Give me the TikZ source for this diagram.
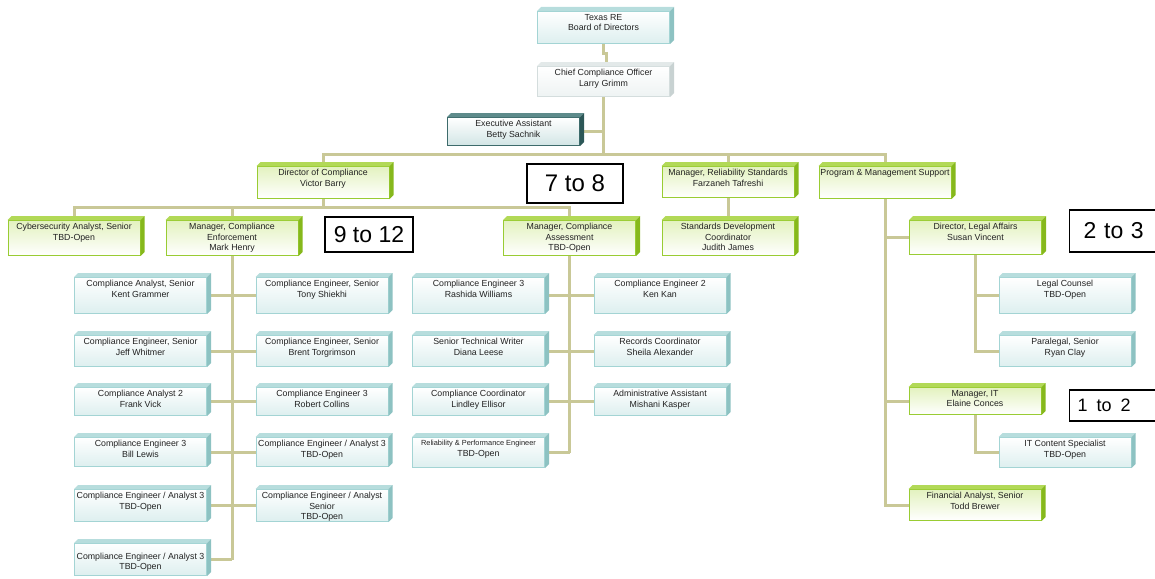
\documentclass[tikz,border=0pt]{standalone}
\usepackage{fontspec}
\setmainfont{Liberation Sans}
\usepackage{xcolor}
\usetikzlibrary{backgrounds}

\definecolor{linkcol}{HTML}{C9C897}
\definecolor{txtcol}{HTML}{222222}
\definecolor{greenline}{HTML}{99CC33}
\definecolor{greentop}{HTML}{B2D957}
\definecolor{greenside}{HTML}{86B81C}
\definecolor{greenfill}{HTML}{E3F2BF}
\definecolor{blueline}{HTML}{A3D4D4}
\definecolor{bluetop}{HTML}{B7DDDD}
\definecolor{blueside}{HTML}{8DC2C2}
\definecolor{bluefill}{HTML}{DDEFEF}
\definecolor{darkline}{HTML}{3D6B6B}
\definecolor{darktop}{HTML}{5E8B8B}
\definecolor{darkside}{HTML}{2C5757}
\definecolor{darkfill}{HTML}{D2E5E5}
\definecolor{greyline}{HTML}{D4DDDD}
\definecolor{greytop}{HTML}{E3E9E9}
\definecolor{greyside}{HTML}{C8D2D2}
\definecolor{greyfill}{HTML}{EEF3F3}

\begin{document}
\begin{tikzpicture}[x=1pt, y=-1pt,
  box/.style={rectangle, anchor=north, minimum width=132pt, inner sep=0pt, line width=1pt},
  greenbox/.style={box, draw=greenline, top color=greenfill, bottom color=white},
  greenbox top/.style={fill=greentop},
  greenbox side/.style={fill=greenside},
  bluebox/.style={box, draw=blueline, top color=white, bottom color=bluefill},
  bluebox top/.style={fill=bluetop},
  bluebox side/.style={fill=blueside},
  darkbox/.style={box, draw=darkline, top color=white, bottom color=darkfill},
  darkbox top/.style={fill=darktop},
  darkbox side/.style={fill=darkside},
  greybox/.style={box, draw=greyline, top color=white, bottom color=greyfill},
  greybox top/.style={fill=greytop},
  greybox side/.style={fill=greyside},
  boxtext/.style={anchor=north, align=center, inner sep=1pt, text=txtcol, font=\fontsize{8.8}{10.6}\selectfont},
  countbox/.style={draw=black, line width=1.3pt, fill=white, inner sep=0pt},
  link/.style={draw=linkcol, line width=3pt},
]

\useasboundingbox (0,0) rectangle (1155,578);
\clip (0,0) rectangle (1155,578);

% box with top bevel and right side: name, kind, x, top, height, text
\def\orgbox#1#2#3#4#5#6{%
  \node[#2, minimum height=#5pt] (#1) at (#3,#4) {};
  \fill[#2 top]  (#1.north west) -- ++(4,-4) -- ([shift={(4,-4)}]#1.north east) -- (#1.north east) -- cycle;
  \fill[#2 side] (#1.north east) -- ([shift={(4,-4)}]#1.north east) -- ([shift={(4,-4)}]#1.south east) -- (#1.south east) -- cycle;
  \node[boxtext] (#1t) at ([yshift=-2pt]#1.north) {#6};
}

% board and officer
\orgbox{texas}{bluebox}{603.5}{11}{32}{Texas RE\\Board of Directors}
\orgbox{cco}{greybox}{603.5}{66}{30}{Chief Compliance Officer\\Larry Grimm}
\orgbox{exec}{darkbox}{513.5}{117}{28}{Executive Assistant\\Betty Sachnik}

% second level
\orgbox{dir}{greenbox}{323}{166}{32}{Director of Compliance\\Victor Barry}
\orgbox{rel}{greenbox}{728}{166}{31}{Manager, Reliability Standards\\Farzaneh Tafreshi}
\orgbox{prog}{greenbox}{885}{166}{32}{Program \& Management Support}

% third level
\orgbox{cyber}{greenbox}{74}{220}{35}{Cybersecurity Analyst, Senior\\TBD-Open}
\orgbox{enf}{greenbox}{232}{220}{35}{Manager, Compliance\\Enforcement\\Mark Henry}
\orgbox{assess}{greenbox}{569.5}{220}{35}{Manager, Compliance\\Assessment\\TBD-Open}
\orgbox{std}{greenbox}{728}{220}{35}{Standards Development\\Coordinator\\Judith James}
\orgbox{dirleg}{greenbox}{975.5}{220}{34}{Director, Legal Affairs\\Susan Vincent}

% enforcement staff
\orgbox{el1}{bluebox}{140.5}{277}{36}{Compliance Analyst, Senior\\Kent Grammer}
\orgbox{er1}{bluebox}{322}{277}{36}{Compliance Engineer, Senior\\Tony Shiekhi}
\orgbox{el2}{bluebox}{140.5}{335}{31}{Compliance Engineer, Senior\\Jeff Whitmer}
\orgbox{er2}{bluebox}{322}{335}{31}{Compliance Engineer, Senior\\Brent Torgrimson}
\orgbox{el3}{bluebox}{140.5}{387}{28}{Compliance Analyst 2\\Frank Vick}
\orgbox{er3}{bluebox}{322}{387}{28}{Compliance Engineer 3\\Robert Collins}
\orgbox{el4}{bluebox}{140.5}{437}{29}{Compliance Engineer 3\\Bill Lewis}
\orgbox{er4}{bluebox}{322}{437}{29}{Compliance Engineer / Analyst 3\\TBD-Open}
\orgbox{el5}{bluebox}{140.5}{489}{32}{Compliance Engineer / Analyst 3\\TBD-Open}
\orgbox{er5}{bluebox}{322}{489}{32}{Compliance Engineer / Analyst\\Senior\\TBD-Open}
\orgbox{el6}{bluebox}{140.5}{543}{32}{\rule{0pt}{13pt}Compliance Engineer / Analyst 3\\TBD-Open}

% assessment staff
\orgbox{al1}{bluebox}{478.5}{277}{36}{Compliance Engineer 3\\Rashida Williams}
\orgbox{ar1}{bluebox}{660}{277}{36}{Compliance Engineer 2\\Ken Kan}
\orgbox{al2}{bluebox}{478.5}{335}{31}{Senior Technical Writer\\Diana Leese}
\orgbox{ar2}{bluebox}{660}{335}{31}{Records Coordinator\\Sheila Alexander}
\orgbox{al3}{bluebox}{478.5}{387}{28}{Compliance Coordinator\\Lindley Ellisor}
\orgbox{ar3}{bluebox}{660}{387}{28}{Administrative Assistant\\Mishani Kasper}
\orgbox{al4}{bluebox}{478.5}{437}{30}{{\fontsize{7.4}{10.6}\selectfont Reliability \& Performance Engineer}\\TBD-Open}

% legal, IT and finance
\orgbox{legal}{bluebox}{1065}{277}{36}{Legal Counsel\\TBD-Open}
\orgbox{para}{bluebox}{1065}{335}{31}{Paralegal, Senior\\Ryan Clay}
\orgbox{mgrit}{greenbox}{975}{387}{27}{Manager, IT\\Elaine Conces}
\orgbox{itc}{bluebox}{1065}{437}{30}{IT Content Specialist\\TBD-Open}
\orgbox{fin}{greenbox}{975}{489}{31}{Financial Analyst, Senior\\Todd Brewer}

% head counts
\node[countbox, minimum width=96pt, minimum height=39pt, font=\fontsize{24}{24}\selectfont] (c78) at (575,183.5) {7 to 8};
\node[countbox, minimum width=88pt, minimum height=35pt, font=\fontsize{23}{23}\selectfont] (c912) at (369,234.5) {9 to 12};
\node[countbox, anchor=west, minimum height=42pt, text width=68pt, inner xsep=14pt, align=left, font=\fontsize{23}{23}\selectfont] (c23) at (1069,231) {2 to 3};
\node[countbox, anchor=west, minimum height=31pt, text width=80pt, inner xsep=8pt, align=left, font=\fontsize{18}{18}\selectfont] (c12) at (1069,405.5) {1\hspace{9pt}to\hspace{9pt}2};

% connectors
\begin{scope}[on background layer]
\coordinate (bus) at (604,154);
\coordinate (bus2) at (322,207);
\draw[link] (texas.south) -- ++(0,10) -| ([xshift=3pt]cco.north);
\draw[link] (cco.south) -- (cco.south |- bus);
\draw[link] (exec.east) -- (exec.east -| cco.south);
\draw[link] (dir.north) |- (prog.north |- bus) -- (prog.north);
\draw[link] (rel.north) -- (rel.north |- bus);
\draw[link] (dir.south) -- (dir.south |- bus2);
\draw[link] (cyber.north) |- (assess.north |- bus2) -- (assess.north);
\draw[link] (enf.north) -- (enf.north |- bus2);
\draw[link] (rel.south) -- (std.north);

% enforcement
\draw[link] (enf.south) -- (enf.south |- el6.east);
\foreach \r in {1,...,5}
  \draw[link] (el\r.east) -- (er\r.west);
\draw[link] (el6.east) -- (el6.east -| enf.south);

% assessment
\draw[link] (assess.south) -- (assess.south |- al4.east);
\foreach \r in {1,...,3}
  \draw[link] (al\r.east) -- (ar\r.west);
\draw[link] (al4.east) -- (al4.east -| assess.south);

% program support
\draw[link] (prog.south) |- (fin.west);
\draw[link] (dirleg.west) -- (dirleg.west -| prog.south);
\draw[link] (mgrit.west) -- (mgrit.west -| prog.south);
\draw[link] (dirleg.south) |- (para.west);
\draw[link] (legal.west) -- (legal.west -| dirleg.south);
\draw[link] (mgrit.south) |- (itc.west);
\end{scope}

\end{tikzpicture}
\end{document}
